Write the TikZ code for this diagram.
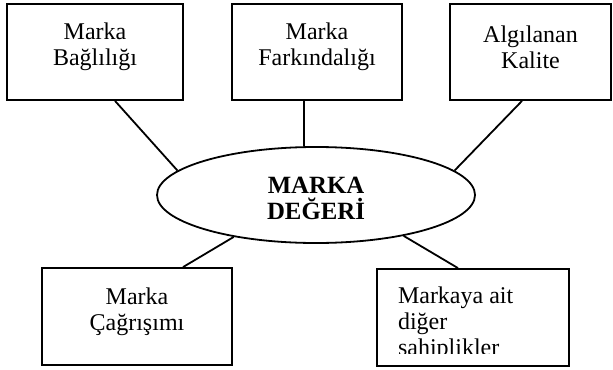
\documentclass[tikz,border=0pt]{standalone}
\usepackage{fontspec}
\setmainfont{Liberation Serif}
\usetikzlibrary{shapes.geometric}

\begin{document}
\begin{tikzpicture}[x={(0.5pt,0pt)},y={(0pt,-0.5pt)},line width=0.9pt,
  kutu/.style={draw, rectangle, inner sep=0pt},
  yazi/.style={align=center, inner sep=0pt, font=\fontsize{12}{13}\selectfont},
  merkez/.style={draw, ellipse, inner sep=0pt, minimum width=159pt, minimum height=48pt},
  kalin/.style={align=center, inner sep=0pt, font=\fontsize{12.4}{13}\selectfont\bfseries}]
\useasboundingbox (0,0) rectangle (613,369);

% ust sira
\node[kutu, minimum width=88pt, minimum height=48pt]   (bag) at (95,52) {};
\node[kutu, minimum width=85pt, minimum height=48pt]   (far) at (317,52) {};
\node[kutu, minimum width=80.5pt, minimum height=48pt] (alg) at (530.5,52) {};
\node[yazi] (bagyazi) at ([yshift=2.5pt]bag.center) {Marka\\Bağlılığı};
\node[yazi] (faryazi) at ([yshift=2.5pt]far.center) {Marka\\Farkındalığı};
\node[yazi] (algyazi) at ([yshift=2.5pt]alg.center) {Algılanan\\Kalite};

% orta
\node[merkez] (deger) at (316,195) {};
\node[kalin] (degeryazi) at ([yshift=-1.5pt]deger.center) {MARKA\\DEĞERİ};

% alt sira
\node[kutu, minimum width=95pt, minimum height=48.5pt] (cag) at (137,316.5) {};
\node[kutu, minimum width=96pt, minimum height=48.5pt] (diger) at (473,317.5) {};
\node[yazi] (cagyazi) at ([yshift=2.5pt]cag.center) {Marka\\Çağrışımı};
\begin{scope}
\clip (diger.north west) rectangle ([yshift=6.5pt]diger.south east);
\node[yazi, align=left, anchor=north west] (digeryazi) at ([xshift=10.5pt,yshift=-8.8pt]diger.north west) {Markaya ait\\diğer\\sahiplikler};
\end{scope}

\draw (deger.170) -- ([xshift=10pt]bag.south);
\draw (deger.104) -- (deger.104 |- far.south);
\draw (deger.10) -- ([xshift=-4.25pt]alg.south);
\draw (deger.207) -- ([xshift=23pt]cag.north);
\draw (deger.-25) -- ([xshift=-7.5pt]diger.north);
\end{tikzpicture}
\end{document}
